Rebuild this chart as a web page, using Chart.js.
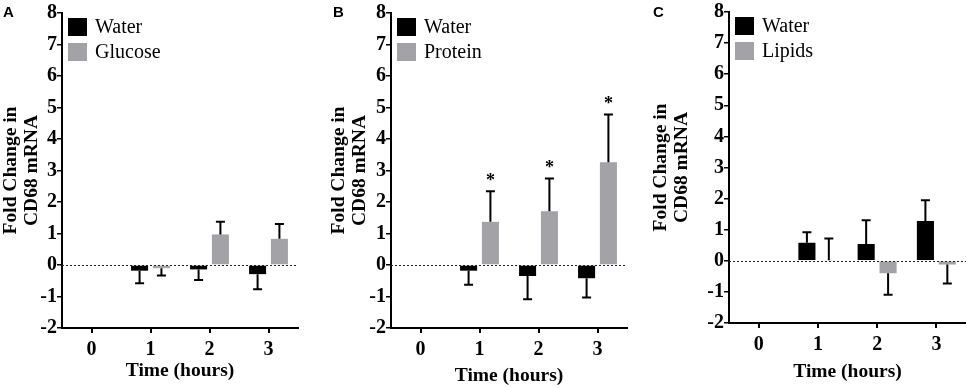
<!DOCTYPE html>
<html>
<head>
<meta charset="utf-8">
<script src="https://cdn.jsdelivr.net/npm/chart.js@4/dist/chart.umd.min.js"></script>
<style>
  html, body { margin: 0; padding: 0; background: #fff; }
  #wrap { position: relative; width: 966px; height: 388px; overflow: hidden; }
  canvas { position: absolute; top: 0; }
  .tag { position: absolute; font: bold 15px "Liberation Sans", Arial, sans-serif; color: #000; line-height: 15px; }
</style>
</head>
<body>
<div id="wrap">
  <canvas id="panelA" width="305" height="388" style="left:0px"></canvas>
  <canvas id="panelB" width="305" height="388" style="left:328px"></canvas>
  <canvas id="panelC" width="316" height="388" style="left:650px"></canvas>
  <div class="tag" style="left:3px;top:4px">A</div>
  <div class="tag" style="left:333px;top:4px">B</div>
  <div class="tag" style="left:653px;top:4px">C</div>
</div>
<script>
// ── Data ─────────────────────────────────────────────────────────

const timeLabels = ['0', '1', '2', '3'];

const waterA    = [0, -0.18, -0.14, -0.29];
const waterAErr = [0, 0.40, 0.34, 0.48];
const glucose    = [0, -0.10, 0.97, 0.83];
const glucoseErr = [0, 0.23, 0.40, 0.47];

const waterB    = [0, -0.18, -0.35, -0.42];
const waterBErr = [0, 0.45, 0.74, 0.61];
const protein    = [0, 1.37, 1.71, 3.26];
const proteinErr = [0, 0.97, 1.04, 1.52];
const proteinSig = ['', '*', '*', '*'];

const waterC    = [0, 0.58, 0.54, 1.28];
const waterCErr = [0, 0.34, 0.76, 0.67];
const lipids    = [0, 0.02, -0.40, -0.12];
const lipidsErr = [0, 0.70, 0.69, 0.61];

const yTitle = ['Fold Change in', 'CD68 mRNA'];
const xTitle = 'Time (hours)';

const SERIF = '"Liberation Serif", "Times New Roman", serif';
const BLACK = '#000000';
const GREY = '#a2a2a7';

// ── Plugins ──────────────────────────────────────────────────────

// one-sided SEM bars, pointing away from zero
const errorBarPlugin = {
    id: 'errorBars',
    afterDatasetsDraw(chart) {
        const ctx = chart.ctx;
        const yScale = chart.scales.y;
        ctx.save();
        ctx.strokeStyle = '#000';
        ctx.lineWidth = 2;
        chart.data.datasets.forEach((ds, di) => {
            if (!ds.errors) return;
            const meta = chart.getDatasetMeta(di);
            ds.data.forEach((v, i) => {
                const e = ds.errors[i];
                if (!e) return;
                const x = meta.data[i].x;
                const end = v >= 0 ? v + e : v - e;
                const y0 = yScale.getPixelForValue(v);
                const y1 = yScale.getPixelForValue(end);
                ctx.beginPath();
                ctx.moveTo(x, y0);
                ctx.lineTo(x, y1);
                ctx.moveTo(x - 4.5, y1);
                ctx.lineTo(x + 4.5, y1);
                ctx.stroke();
                if (ds.sig && ds.sig[i]) {
                    ctx.fillStyle = '#000';
                    ctx.font = 'bold 18px ' + SERIF;
                    ctx.textAlign = 'center';
                    ctx.textBaseline = 'middle';
                    ctx.fillText(ds.sig[i], x, y1 - 10);
                }
            });
        });
        ctx.restore();
    },
};

// dotted baseline at y = 0
const zeroLinePlugin = {
    id: 'zeroLine',
    afterDatasetsDraw(chart) {
        const { left, right } = chart.chartArea;
        const y = Math.round(chart.scales.y.getPixelForValue(0)) + 0.5;
        const ctx = chart.ctx;
        ctx.save();
        ctx.strokeStyle = '#222';
        ctx.lineWidth = 1;
        ctx.setLineDash([2, 2]);
        ctx.beginPath();
        ctx.moveTo(left, y);
        ctx.lineTo(right, y);
        ctx.stroke();
        ctx.restore();
    },
};

// stacked legend in the top-left of the plot
const boxLegendPlugin = {
    id: 'boxLegend',
    afterDraw(chart) {
        const { left, top } = chart.chartArea;
        const ctx = chart.ctx;
        ctx.save();
        chart.data.datasets.forEach((ds, i) => {
            const bx = left + 6;
            const by = top + 5 + i * 25;
            ctx.fillStyle = ds.backgroundColor;
            ctx.fillRect(bx, by, 19, 18);
            ctx.fillStyle = '#000';
            ctx.font = '20px ' + SERIF;
            ctx.textAlign = 'left';
            ctx.textBaseline = 'middle';
            ctx.fillText(ds.label, bx + 27, by + 10);
        });
        ctx.restore();
    },
};

// ── Panel builder ────────────────────────────────────────────────

function makePanel(id, series, lay) {
    const datasets = series.map(s => ({
        label: s.label,
        data: s.data,
        errors: s.errors,
        sig: s.sig,
        backgroundColor: s.color,
        borderWidth: 0,
        categoryPercentage: 0.74,
        barPercentage: 0.78,
    }));

    return new Chart(document.getElementById(id), {
        type: 'bar',
        data: { labels: timeLabels, datasets },
        plugins: [zeroLinePlugin, errorBarPlugin, boxLegendPlugin],
        options: {
            responsive: false,
            animation: false,
            devicePixelRatio: 1,
            layout: { padding: { top: lay.top, right: lay.right, left: 0, bottom: 0 } },
            plugins: { legend: { display: false }, tooltip: { enabled: false } },
            scales: {
                x: {
                    offset: true,
                    grid: { offset: false, drawOnChartArea: false, color: '#000', lineWidth: 2, tickLength: 5 },
                    border: { color: '#000', width: 2 },
                    ticks: { color: '#000', font: { family: SERIF, size: 20, weight: 'bold' }, padding: 5, maxRotation: 0 },
                    title: {
                        display: true, text: xTitle, color: '#000',
                        font: { family: SERIF, size: 19.5, weight: 'bold' },
                        padding: { top: 0, bottom: lay.xTitlePad },
                    },
                    afterFit(scale) { scale.height = lay.xHeight; },
                },
                y: {
                    min: -2,
                    max: 8,
                    grid: { drawOnChartArea: false, color: '#000', lineWidth: 1.5, tickLength: 5 },
                    border: { color: '#000', width: 2 },
                    ticks: { stepSize: 1, color: '#000', font: { family: SERIF, size: 20, weight: 'bold' }, padding: 0 },
                    title: {
                        display: true, text: yTitle, color: '#000',
                        font: { family: SERIF, size: 19.5, weight: 'bold', lineHeight: 1.08 },
                        padding: { top: 0, bottom: 0 },
                    },
                    afterFit(scale) { scale.width = lay.yWidth; },
                },
            },
        },
    });
}

makePanel('panelA', [
    { label: 'Water', data: waterA, errors: waterAErr, color: BLACK },
    { label: 'Glucose', data: glucose, errors: glucoseErr, color: GREY },
], { top: 13, right: 7, yWidth: 62, xHeight: 60, xTitlePad: 5 });

makePanel('panelB', [
    { label: 'Water', data: waterB, errors: waterBErr, color: BLACK },
    { label: 'Protein', data: protein, errors: proteinErr, sig: proteinSig, color: GREY },
], { top: 13, right: 6, yWidth: 63, xHeight: 60, xTitlePad: 0 });

makePanel('panelC', [
    { label: 'Water', data: waterC, errors: waterCErr, color: BLACK },
    { label: 'Lipids', data: lipids, errors: lipidsErr, color: GREY },
], { top: 10, right: 0, yWidth: 79, xHeight: 65, xTitlePad: 4 });
</script>
</body>
</html>
